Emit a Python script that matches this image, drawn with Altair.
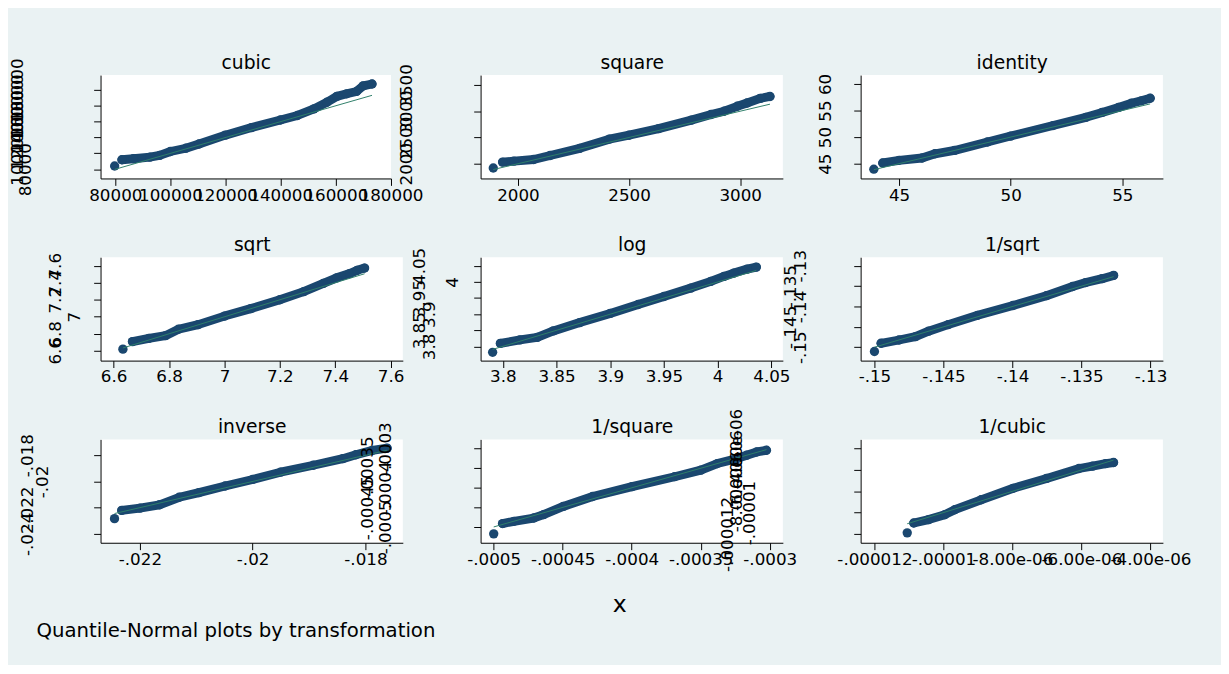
import altair as alt
import pandas as pd

# ---------------- data ----------------
titles = ["cubic", "square", "identity", "sqrt", "log", "1/sqrt", "inverse", "1/square", "1/cubic"]

cubic_x = [79750, 82390, 86540, 92500, 96070, 100000, 105600, 110360, 119890, 129400,
           139890, 146070, 152020, 156770, 160360, 163930, 167500, 169890, 173110]
cubic_y = [84100, 91910, 93150, 95260, 97370, 102330, 106430, 111760, 122930, 132480,
           142030, 147740, 156050, 164370, 171810, 175040, 178020, 184960, 187440]

square_x = [1889, 1931, 1982, 2071, 2145, 2278, 2411, 2500, 2633, 2780, 2869, 2928, 2987, 3031, 3090, 3134]
square_y = [1919, 2031, 2050, 2081, 2156, 2293, 2468, 2543, 2668, 2831, 2937, 3000, 3094, 3156, 3244, 3281]

identity_x = [43.87, 44.27, 45.0, 46.03, 46.61, 47.49, 48.96, 50.0, 51.9, 53.37, 54.1, 54.83, 55.41, 55.85, 56.25]
identity_y = [43.96, 45.13, 45.63, 46.06, 46.86, 47.49, 49.07, 50.19, 52.17, 53.72, 54.65, 55.58, 56.38, 56.83, 57.31]

sqrt_x = [6.6333, 6.6677, 6.727, 6.787, 6.834, 6.905, 7.0, 7.095, 7.2, 7.286, 7.357, 7.405, 7.452, 7.479, 7.506]
sqrt_y = [6.6196, 6.7085, 6.746, 6.778, 6.854, 6.908, 7.008, 7.096, 7.2, 7.296, 7.392, 7.458, 7.508, 7.546, 7.573]

log_x = [3.7905, 3.7977, 3.816, 3.832, 3.847, 3.8716, 3.9, 3.926, 3.95, 3.975, 3.9936, 4.0058, 4.015, 4.0275, 4.036]
log_y = [3.7815, 3.8092, 3.8203, 3.8277, 3.848, 3.8738, 3.9024, 3.930, 3.955, 3.981, 4.0018, 4.0172, 4.0275, 4.04, 4.0462]

isqrt_x = [-0.15, -0.14952, -0.14822, -0.14703, -0.14608, -0.14466, -0.14252, -0.13996,
           -0.13754, -0.13564, -0.13469, -0.1335, -0.13267]
isqrt_y = [-0.15105, -0.14904, -0.14823, -0.14742, -0.14607, -0.14446, -0.14217, -0.13976,
           -0.13735, -0.13508, -0.13412, -0.13316, -0.13236]

inverse_x = [-0.02245, -0.022322, -0.022, -0.021651, -0.021302, -0.020953, -0.020488, -0.02,
             -0.019506, -0.018924, -0.018401, -0.018169, -0.017878, -0.017616]
inverse_y = [-0.022838, -0.022211, -0.022038, -0.021781, -0.021208, -0.020853, -0.020347, -0.019849,
             -0.019294, -0.018766, -0.018264, -0.017962, -0.01763, -0.017457]

isquare_x = [-0.0005, -0.0004936, -0.0004853, -0.000471, -0.0004639, -0.0004496, -0.0004283, -0.0003998,
             -0.0003689, -0.0003499, -0.000338, -0.0003238, -0.0003167, -0.0003095, -0.0003024]
isquare_y = [-0.0005177, -0.0004914, -0.0004856, -0.0004772, -0.0004686, -0.0004476, -0.0004223, -0.000397,
             -0.0003716, -0.0003547, -0.000338, -0.0003253, -0.0003167, -0.0003084, -0.000304]

icubic_x = [-1.105e-5, -1.086e-5, -1.043e-5, -9.96e-6, -9.67e-6, -8.91e-6, -7.98e-6, -7.01e-6,
            -6.07e-6, -5.68e-6, -5.3e-6, -5.07e-6]
icubic_y = [-1.1907e-5, -1.0977e-5, -1.066e-5, -1.0195e-5, -9.73e-6, -8.8e-6, -7.72e-6, -6.79e-6,
            -5.86e-6, -5.64e-6, -5.4e-6, -5.3e-6]

# tick values and their labels
cubic_ticks = [80000, 100000, 120000, 140000, 160000, 180000]
cubic_labels = ["80000", "100000", "120000", "140000", "160000", "180000"]
square_xticks = [2000, 2500, 3000]
square_xlabels = ["2000", "2500", "3000"]
square_yticks = [2000, 2500, 3000, 3500]
square_ylabels = ["2000", "2500", "3000", "3500"]
identity_xticks = [45, 50, 55]
identity_xlabels = ["45", "50", "55"]
identity_yticks = [45, 50, 55, 60]
identity_ylabels = ["45", "50", "55", "60"]
sqrt_ticks = [6.6, 6.8, 7.0, 7.2, 7.4, 7.6]
sqrt_labels = ["6.6", "6.8", "7", "7.2", "7.4", "7.6"]
log_ticks = [3.8, 3.85, 3.9, 3.95, 4.0, 4.05]
log_labels = ["3.8", "3.85", "3.9", "3.95", "4", "4.05"]
isqrt_ticks = [-0.15, -0.145, -0.14, -0.135, -0.13]
isqrt_labels = ["-.15", "-.145", "-.14", "-.135", "-.13"]
inverse_xticks = [-0.022, -0.02, -0.018]
inverse_xlabels = ["-.022", "-.02", "-.018"]
inverse_yticks = [-0.024, -0.022, -0.02, -0.018]
inverse_ylabels = ["-.024", "-.022", "-.02", "-.018"]
isquare_ticks = [-0.0005, -0.00045, -0.0004, -0.00035, -0.0003]
isquare_labels = ["-.0005", "-.00045", "-.0004", "-.00035", "-.0003"]
icubic_ticks = [-1.2e-5, -1.0e-5, -8.0e-6, -6.0e-6, -4.0e-6]
icubic_labels = ["-.000012", "-.00001", "-8.00e-06", "-6.00e-06", "-4.00e-06"]

NOTE = "Quantile-Normal plots by transformation"
XTITLE = "x"

# ---------------- styling ----------------
NAVY = "#1A476F"
GREEN = "#2F7F6A"
BG = "#EAF2F3"
FONT = "DejaVu Sans"


def label_expr(vals, labs):
    span = max(vals) - min(vals)
    eps = span * 1e-6
    parts = [f"abs(datum.value - ({v!r})) < {eps!r} ? '{l}'" for v, l in zip(vals, labs)]
    return " : ".join(parts) + " : ''"


def pad_cond(vals, pads, default):
    span = max(vals) - min(vals)
    eps = span * 1e-6
    conds = [{"test": f"abs(datum.value - ({v!r})) < {eps!r}", "value": p}
             for v, p in zip(vals, pads) if p != default]
    if not conds:
        return default
    return {"condition": conds, "value": default}


def panel(title, xs, ys, xdom, ydom, xt, xl, yt, yl, ypads, ydefault, width=307, xpad=2):
    df = pd.DataFrame({"x": xs, "y": ys, "k": list(range(len(xs)))})
    ref = pd.DataFrame({"x": [xs[0], xs[-1]], "y": [xs[0], xs[-1]]})
    xscale = alt.Scale(domain=xdom, nice=False, zero=False)
    yscale = alt.Scale(domain=ydom, nice=False, zero=False)
    xaxis = alt.Axis(values=xt, labelExpr=label_expr(xt, xl), title=None, labelFlush=False,
                     labelOverlap=False, labelPadding=xpad, labelAngle=0, orient="bottom")
    # panel title drawn as the title of an empty top axis so that it sits on the plot area
    taxis = alt.Axis(orient="top", title=title, labels=False, ticks=False, domain=False,
                     titleFontSize=19, titleFont=FONT, titleFontWeight="normal", titleColor="black",
                     titlePadding=3)
    yaxis = alt.Axis(values=yt, labelExpr=label_expr(yt, yl), title=None, labelFlush=False,
                     labelOverlap=False, labelAngle=270, labelAlign="center", labelBaseline="bottom",
                     labelPadding=pad_cond(yt, ypads, ydefault))
    yenc = alt.Y("y:Q", scale=yscale, axis=yaxis)
    band = alt.Chart(df).transform_filter("datum.k > 0").mark_line(
        color=NAVY, strokeWidth=9, strokeCap="round", strokeJoin="round").encode(
        x=alt.X("x:Q", scale=xscale, axis=xaxis), y=yenc, order="k:Q")
    dots = alt.Chart(df).mark_circle(color=NAVY, size=90, opacity=1).encode(
        x=alt.X("x:Q", scale=xscale, axis=None), y=yenc)
    line = alt.Chart(ref).mark_line(color=GREEN, strokeWidth=1).encode(
        x=alt.X("x:Q", scale=xscale, axis=taxis), y=yenc)
    return alt.layer(band, dots, line).resolve_axis(x="independent").properties(
        width=width, height=105)


panels = [
    panel(titles[0], cubic_x, cubic_y, [74640, 180000], [68340, 198610],
          cubic_ticks, cubic_labels, cubic_ticks, cubic_labels,
          [60, 68, 68, 68, 68, 68], 68, width=295),
    panel(titles[1], square_x, square_y, [1832, 3192], [1719, 3688],
          square_xticks, square_xlabels, square_yticks, square_ylabels,
          [59, 59, 59, 59], 59),
    panel(titles[2], identity_x, identity_y, [43.28, 56.82], [42.21, 61.67],
          identity_xticks, identity_xlabels, identity_yticks, identity_ylabels,
          [20, 20, 20, 20], 20),
    panel(titles[3], sqrt_x, sqrt_y, [6.5526, 7.644], [6.4847, 7.70],
          sqrt_ticks, sqrt_labels, sqrt_ticks, sqrt_labels,
          [30, 30, 10, 30, 30, 30], 30, xpad=1),
    panel(titles[4], log_x, log_y, [3.7793, 4.0607], [3.7557, 4.0768],
          log_ticks, log_labels, log_ticks, log_labels,
          [36, 46, 36, 46, 12, 46], 46, xpad=1),
    panel(titles[5], isqrt_x, isqrt_y, [-0.151, -0.1291], [-0.1533, -0.1279],
          isqrt_ticks, isqrt_labels, isqrt_ticks, isqrt_labels,
          [45, 55, 45, 55, 45], 45, xpad=1),
    panel(titles[6], inverse_x, inverse_y, [-0.0226977, -0.017337], [-0.02468, -0.016792],
          inverse_xticks, inverse_xlabels, inverse_yticks, inverse_ylabels,
          [58, 58, 43, 58], 58),
    panel(titles[7], isquare_x, isquare_y, [-0.0005095, -0.0002905], [-0.0005405, -0.0002762],
          isquare_ticks, isquare_labels, isquare_ticks, isquare_labels,
          [80, 99, 80, 99, 80], 80),
    panel(titles[8], icubic_x, icubic_y, [-1.24e-5, -3.64e-6], [-1.2837e-5, -3.126e-6],
          icubic_ticks, icubic_labels, icubic_ticks, icubic_labels,
          [119, 97, 110, 110, 110], 110),
]

grid = alt.concat(*panels, columns=3, spacing={"row": 80, "column": 79}, bounds="flush").properties(
    title=alt.TitleParams(XTITLE, orient="bottom", anchor="middle", fontSize=24, font=FONT,
                          fontWeight="normal", color="black", offset=22, dx=20))

chart = alt.vconcat(grid, bounds="flush").properties(
    title=alt.TitleParams(NOTE, orient="bottom", anchor="start", fontSize=20, font=FONT,
                          fontWeight="normal", color="black", offset=5, dx=28),
    padding={"left": 0, "top": 41, "right": 30, "bottom": 18},
).configure(background=BG, font=FONT).configure_view(
    fill="white", stroke=None
).configure_axis(
    domainColor="black", domainWidth=1, tickColor="black", tickWidth=1, tickSize=7,
    labelColor="black", labelFontSize=17, labelFont=FONT, grid=False
)

chart.save("out.html", embed_options={"renderer": "svg", "actions": False})
